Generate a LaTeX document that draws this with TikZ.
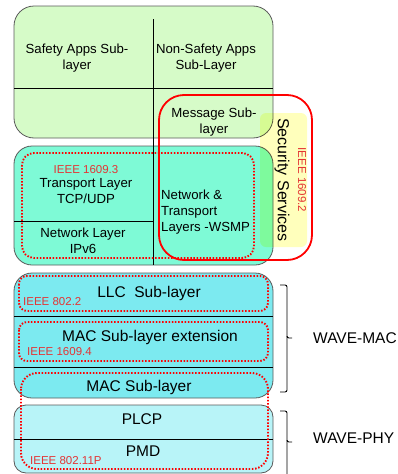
\documentclass[tikz,border=0pt]{standalone}
\usepackage{fontspec}
\setmainfont{Liberation Sans}
\definecolor{appgreen}{RGB}{214,251,200}
\definecolor{netteal}{RGB}{126,250,214}
\definecolor{maccyan}{RGB}{124,234,240}
\definecolor{phycyan}{RGB}{184,244,248}
\definecolor{secyellow}{RGB}{255,255,188}
\definecolor{boxgray}{RGB}{90,90,90}
\definecolor{lblred}{RGB}{228,52,52}
\begin{document}
\begin{tikzpicture}[x=1pt,y=-1pt,
  layerbox/.style={draw=boxgray,line width=0.8pt},
  dotbox/.style={draw=red,line width=1.9pt,dash pattern=on 1.5pt off 1.7pt,rounded corners=12},
  sepline/.style={draw=black,line width=0.9pt},
  tsmall/.style={font=\fontsize{13.2}{16}\selectfont,align=center,inner sep=0pt},
  tbig/.style={font=\fontsize{15.5}{18}\selectfont,align=center,inner sep=0pt},
  redlbl/.style={font=\fontsize{11.5}{13}\selectfont,text=lblred,inner sep=0pt},
  bracket/.style={draw=black,line width=0.9pt,rounded corners=2}]
\useasboundingbox (0,0) rectangle (398,474);
\clip (0,0) rectangle (398,474);
% application layer
\draw[layerbox,fill=appgreen,rounded corners=20] (14,6) rectangle (273,138);
\draw[sepline] (14,88) -- (273,88);
% network layer
\draw[layerbox,fill=netteal,rounded corners=18] (14,146) rectangle (273,265);
\draw[sepline] (14,221) -- (153,221);
\draw[sepline] (153,19) -- (153,265);
\draw[dotbox] (22,153) rectangle (254,258);
% security yellow
\begin{scope}[blend mode=multiply]
\fill[secyellow,rounded corners=6] (260,113) rectangle (307,247);
\end{scope}
% security red outline
\draw[red,line width=1.8pt,rounded corners=25] (159,95) rectangle (312,260);
% texts upper
\node[tsmall] (safety) at (77,58) {Safety Apps Sub-\\layer};
\node[tsmall] (nonsafety) at (206,58) {Non-Safety Apps\\Sub-Layer};
\node[tsmall] (message) at (214,122) {Message Sub-\\layer};
\node[redlbl] (ieee3) at (86,170) {IEEE 1609.3};
\node[tsmall] (transport) at (86,191) {Transport Layer\\TCP/UDP};
\node[tsmall] (network) at (83,240.5) {Network Layer\\IPv6};
\node[tsmall,align=left,anchor=west] (wsmp) at (161,212) {Network \&\\Transport\\Layers -WSMP};
\node[font=\fontsize{16}{18}\selectfont,rotate=-90,inner sep=0pt] (security) at (282,180) {Security Services};
\node[redlbl,rotate=-90] (ieee2) at (302,180) {IEEE 1609.2};
% MAC layer
\draw[layerbox,fill=maccyan,rounded corners=18] (14,273) rectangle (273,398);
\draw[sepline] (14,316) -- (273,316);
\draw[sepline] (14,367) -- (273,367);
\draw[dotbox,rounded corners=8] (19,276) rectangle (268,311);
\draw[dotbox,rounded corners=8] (19,322) rectangle (268,361);
% PHY layer
\draw[layerbox,fill=phycyan,rounded corners=12] (14,405) rectangle (273,473);
\draw[sepline] (14,439) -- (273,439);
\draw[dotbox,rounded corners=16] (21,373) rectangle (268,469);
% texts lower
\node[tbig] (llc) at (149,293) {LLC\ \ Sub-layer};
\node[redlbl,anchor=west] (ieee802) at (23,302) {IEEE 802.2};
\node[tbig] (macext) at (150,337) {MAC Sub-layer extension};
\node[redlbl,anchor=west] (ieee4) at (27,352) {IEEE 1609.4};
\node[tbig] (mac) at (139,387) {MAC Sub-layer};
\node[tbig] (plcp) at (142,419) {PLCP};
\node[tbig] (pmd) at (143,451) {PMD};
\node[redlbl,anchor=west] (ieee11p) at (30,461) {IEEE 802.11P};
% brackets
\coordinate (macTop) at (280,285);
\coordinate (macMid) at (292,338);
\coordinate (macBot) at (280,392);
\draw[bracket] (macTop) -- (287,285) -- (287,338) -- (macMid);
\draw[bracket] (287,336) -- (287,392) -- (macBot);
\node[tbig,anchor=west] (wavemac) at (313,338) {WAVE-MAC};
\coordinate (phyTop) at (280,411);
\coordinate (phyMid) at (292,442);
\coordinate (phyBot) at (280,490);
\draw[bracket] (phyTop) -- (287,411) -- (287,442) -- (phyMid);
\draw[bracket] (287,440) -- (287,490) -- (phyBot);
\node[tbig,anchor=west] (wavephy) at (313,438) {WAVE-PHY};
\end{tikzpicture}
\end{document}
